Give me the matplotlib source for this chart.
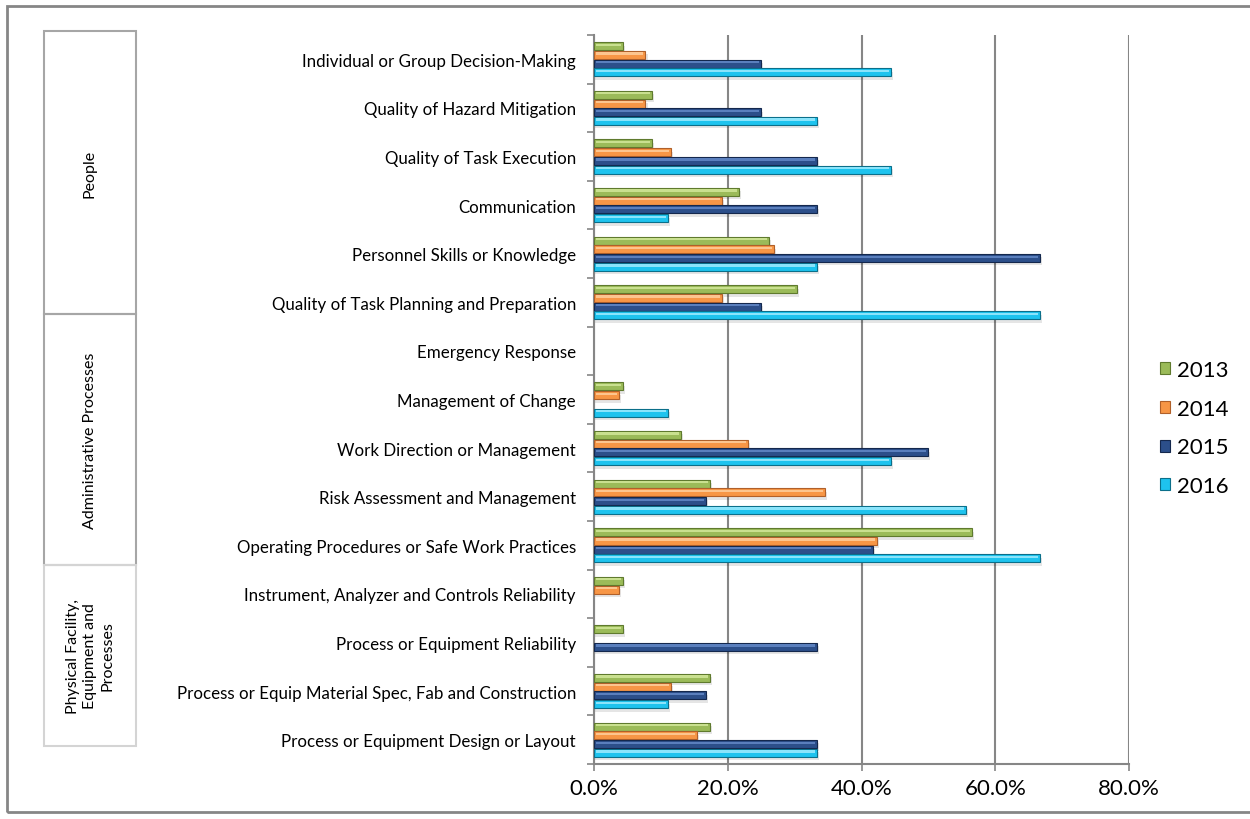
import matplotlib
matplotlib.use("Agg")
import matplotlib.pyplot as plt
from matplotlib.patches import Rectangle, Patch
from matplotlib.ticker import FuncFormatter, MultipleLocator
import numpy as np

plt.rcParams['font.family'] = ['Lato', 'DejaVu Sans']

# Causal factor categories, top to bottom
categories = [
    "Individual or Group Decision-Making",
    "Quality of Hazard Mitigation",
    "Quality of Task Execution",
    "Communication",
    "Personnel Skills or Knowledge",
    "Quality of Task Planning and Preparation",
    "Emergency Response",
    "Management of Change",
    "Work Direction or Management",
    "Risk Assessment and Management",
    "Operating Procedures or Safe Work Practices",
    "Instrument, Analyzer and Controls Reliability",
    "Process or Equipment Reliability",
    "Process or Equip Material Spec, Fab and Construction",
    "Process or Equipment Design or Layout",
]

years = ["2013", "2014", "2015", "2016"]

# Share of incidents citing each factor (percent)
v2013 = [4.3, 8.7, 8.7, 21.7, 26.1, 30.4, 0.0, 4.3, 13.0, 17.4, 56.5, 4.3, 4.3, 17.4, 17.4]
v2014 = [7.7, 7.7, 11.5, 19.2, 26.9, 19.2, 0.0, 3.8, 23.1, 34.6, 42.3, 3.8, 0.0, 11.5, 15.4]
v2015 = [25.0, 25.0, 33.3, 33.3, 66.7, 25.0, 0.0, 0.0, 50.0, 16.7, 41.7, 0.0, 33.3, 16.7, 33.3]
v2016 = [44.4, 33.3, 44.4, 11.1, 33.3, 66.7, 0.0, 11.1, 44.4, 55.6, 66.7, 0.0, 0.0, 11.1, 33.3]

series = [v2013, v2014, v2015, v2016]
base_colors = ["#9bbb59", "#f79646", "#2c4f8a", "#1ec3ee"]
light_colors = ["#c9e08f", "#fcc58f", "#5a7fbd", "#8ae4fb"]
dark_colors = ["#5f7a2e", "#b0602a", "#14284d", "#0b6f8a"]

groups = [
    ("People", 32, 315, "#a6a6a6"),
    ("Administrative Processes", 315, 566, "#a6a6a6"),
    ("Physical Facility,\nEquipment and\nProcesses", 566, 747, "#d4d4d4"),
]

W, H = 1250, 820
fig = plt.figure(figsize=(W / 100, H / 100), dpi=100)
ax = fig.add_axes([594 / W, 1 - 765 / H, (1129 - 594) / W, (765 - 36) / H])

n = len(categories)
y = np.arange(n)
pitch = 0.18
bar_h = 0.165

for i, (vals, c, lc, dc) in enumerate(zip(series, base_colors, light_colors, dark_colors)):
    pos = y + (i - 1.5) * pitch
    vals = np.asarray(vals)
    mask = vals > 0
    # soft drop shadow
    ax.barh(pos[mask] + 0.07, vals[mask] + 0.3, height=bar_h, left=0,
            color="#000000", alpha=0.10, linewidth=0, zorder=2)
    ax.barh(pos[mask], vals[mask], height=bar_h, color=c,
            edgecolor=dc, linewidth=0.8, zorder=3)
    # highlight stripe for a rounded look
    ax.barh(pos[mask] - bar_h * 0.18, vals[mask] - 0.6, height=bar_h * 0.28, left=0.3,
            color=lc, linewidth=0, zorder=4)

ax.set_xlim(0, 80)
ax.set_ylim(n - 0.5, -0.5)
ax.xaxis.set_major_locator(MultipleLocator(20))
ax.xaxis.set_major_formatter(FuncFormatter(lambda v, p: f"{v:.1f}%"))
ax.grid(axis="x", color="#868686", linewidth=1.5, zorder=0)
ax.set_axisbelow(True)

ax.set_yticks(y)
ax.set_yticklabels(categories, fontsize=12.2)
ax.set_yticks(np.arange(n + 1) - 0.5, minor=True)
ax.tick_params(axis="y", which="major", length=0, pad=13, labelcolor="#000000")
ax.tick_params(axis="y", which="minor", length=5, width=1.2, color="#868686")
ax.tick_params(axis="x", length=5, width=1.2, color="#868686", labelsize=16, pad=5)

for s in ["top", "right"]:
    ax.spines[s].set_visible(False)
for s in ["left", "bottom"]:
    ax.spines[s].set_color("#868686")
    ax.spines[s].set_linewidth(1.5)

# Outer chart frame (right edge runs past the canvas)
fig.add_artist(Rectangle((7 / W, 1 - 813 / H), (1256 - 7) / W, (813 - 7) / H,
                         transform=fig.transFigure, fill=False,
                         edgecolor="#868686", linewidth=2))

# Group boxes on the left
for label, top, bot, ec in groups:
    fig.add_artist(Rectangle((44 / W, 1 - bot / H), (136 - 44) / W, (bot - top) / H,
                             transform=fig.transFigure, fill=False,
                             edgecolor=ec, linewidth=1.5))
    fig.text(90 / W, 1 - (top + bot) / 2 / H, label, rotation=90,
             ha="center", va="center", fontsize=11.5, linespacing=1.3,
             multialignment="center")

handles = [Patch(facecolor=c, edgecolor=dc, linewidth=0.8) for c, dc in zip(base_colors, dark_colors)]
fig.legend(handles, years, loc="center left", bbox_to_anchor=(1160 / W, 1 - 429 / H),
           frameon=False, fontsize=16, handlelength=0.45, handleheight=0.45,
           handletextpad=0.3, labelspacing=0.85, borderpad=0, borderaxespad=0)

fig.savefig("out.png", dpi=100)
